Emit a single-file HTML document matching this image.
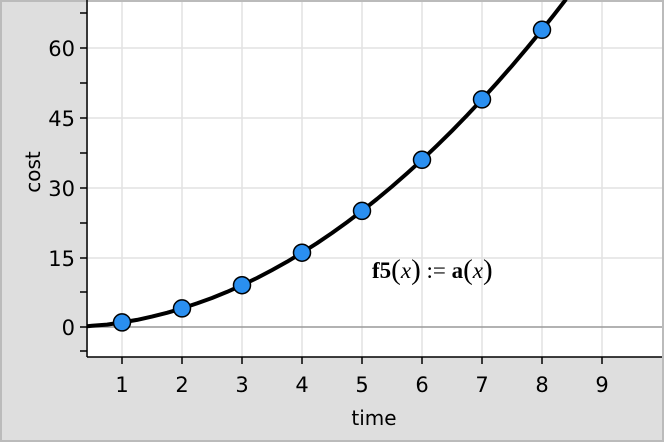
<!DOCTYPE html>
<html><head><style>
html,body{margin:0;padding:0;background:#dedede;}
svg{display:block;font-family:"DejaVu Sans","Liberation Sans",sans-serif;}
</style></head><body>
<svg width="664" height="442" viewBox="0 0 664 442">
<rect x="0" y="0" width="664" height="442" fill="#dedede"/>
<rect x="0" y="0" width="664" height="2" fill="#bbb"/>
<rect x="662" y="0" width="2" height="442" fill="#bbb"/>
<rect x="0" y="440" width="664" height="2" fill="#bbb"/>
<rect x="0" y="0" width="2" height="442" fill="#bbb"/>
<rect x="88" y="2" width="574" height="355" fill="#fff"/>
<g stroke="#e2e2e2" stroke-width="1.5">
<line x1="122" y1="2" x2="122" y2="357"/><line x1="182" y1="2" x2="182" y2="357"/>
<line x1="242" y1="2" x2="242" y2="357"/><line x1="302" y1="2" x2="302" y2="357"/>
<line x1="362" y1="2" x2="362" y2="357"/><line x1="422" y1="2" x2="422" y2="357"/>
<line x1="482" y1="2" x2="482" y2="357"/><line x1="542" y1="2" x2="542" y2="357"/>
<line x1="602" y1="2" x2="602" y2="357"/>
<line x1="88" y1="48" x2="662" y2="48"/><line x1="88" y1="118" x2="662" y2="118"/>
<line x1="88" y1="188" x2="662" y2="188"/><line x1="88" y1="258" x2="662" y2="258"/>
</g>
<line x1="88" y1="327" x2="662" y2="327" stroke="#999" stroke-width="1.5"/>
<g stroke="#000" stroke-width="1.5">
<line x1="87" y1="0" x2="87" y2="357"/><line x1="87" y1="357" x2="662" y2="357"/>
<line x1="80" y1="48" x2="87" y2="48"/><line x1="80" y1="118" x2="87" y2="118"/>
<line x1="80" y1="188" x2="87" y2="188"/><line x1="80" y1="258" x2="87" y2="258"/>
<line x1="80" y1="327" x2="87" y2="327"/>
<line x1="80" y1="13" x2="87" y2="13"/><line x1="80" y1="83" x2="87" y2="83"/>
<line x1="80" y1="153" x2="87" y2="153"/><line x1="80" y1="223" x2="87" y2="223"/>
<line x1="80" y1="292" x2="87" y2="292"/><line x1="80" y1="351" x2="87" y2="351"/>
<line x1="122" y1="357" x2="122" y2="364"/><line x1="182" y1="357" x2="182" y2="364"/>
<line x1="242" y1="357" x2="242" y2="364"/><line x1="302" y1="357" x2="302" y2="364"/>
<line x1="362" y1="357" x2="362" y2="364"/><line x1="422" y1="357" x2="422" y2="364"/>
<line x1="482" y1="357" x2="482" y2="364"/><line x1="542" y1="357" x2="542" y2="364"/>
<line x1="602" y1="357" x2="602" y2="364"/>
</g>
<g font-size="21" fill="#000" text-anchor="end">
<text x="75" y="56">60</text><text x="75" y="126">45</text><text x="75" y="196">30</text>
<text x="75" y="266">15</text><text x="75" y="335">0</text>
</g>
<g font-size="21" fill="#000" text-anchor="middle">
<text x="122" y="392">1</text><text x="182" y="392">2</text><text x="242" y="392">3</text>
<text x="302" y="392">4</text><text x="362" y="392">5</text><text x="422" y="392">6</text>
<text x="482" y="392">7</text><text x="542" y="392">8</text><text x="602" y="392">9</text>
<text x="374" y="425" font-size="20">time</text>
<text transform="translate(40,172) rotate(-90)" font-size="20">cost</text>
</g>
<path d="M87.2,326.2 L92,325.8 L107,324.6 L122,322.4 L137,319.9 L152,316.6 L167,312.8 L182,308.4 L197,303.4 L212,298.0 L227,291.9 L242,285.2 L257,278.0 L272,270.1 L287,261.8 L302,252.7 L317,243.2 L332,233.0 L347,222.2 L362,210.9 L377,199.0 L392,186.5 L407,173.4 L422,159.8 L437,145.6 L452,130.8 L467,115.4 L482,99.4 L497,82.9 L512,65.8 L527,48.1 L542,29.8 L554,14.8 L566,-0.7" fill="none" stroke="#000" stroke-width="4" stroke-linejoin="round"/>
<g fill="#2a8ff0" stroke="#000" stroke-width="1.5">
<circle cx="122" cy="322.4" r="8.5"/><circle cx="182" cy="308.4" r="8.5"/>
<circle cx="242" cy="285.2" r="8.5"/><circle cx="302" cy="252.7" r="8.5"/>
<circle cx="362" cy="210.9" r="8.5"/><circle cx="422" cy="159.8" r="8.5"/>
<circle cx="482" cy="99.4" r="8.5"/><circle cx="542" cy="29.8" r="8.5"/>
</g>
<text x="372" y="278" font-family="'Liberation Serif',serif" font-size="23" fill="#000"><tspan font-weight="bold">f5</tspan><tspan font-size="29" dy="1">(</tspan><tspan font-style="italic" dy="-1">x</tspan><tspan font-size="29" dy="1">)</tspan><tspan dy="-1"> := </tspan><tspan font-weight="bold">a</tspan><tspan font-size="29" dy="1">(</tspan><tspan font-style="italic" dy="-1">x</tspan><tspan font-size="29" dy="1">)</tspan></text>
</svg>
</body></html>
